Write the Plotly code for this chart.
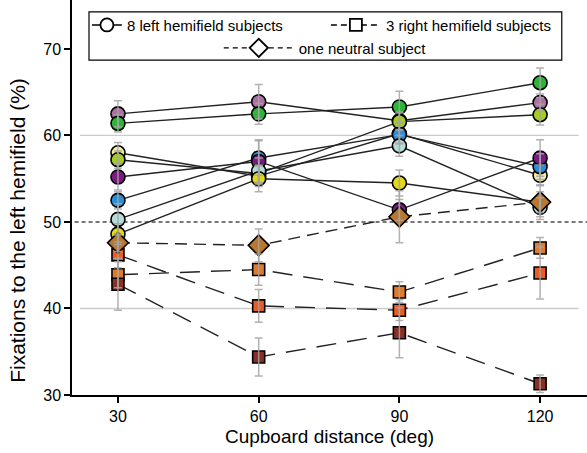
import plotly.graph_objects as go

distances = [30, 60, 90, 120]

# Left-hemifield subjects (circles, solid lines)
left_names = ["mauve", "green", "paleyellow", "yellowgreen", "blue", "purple", "lightcyan", "yellow"]
left_colors = ["#b06fa4", "#2db53a", "#f6efa2", "#a6cc1e", "#2b8fd8", "#7a1b82", "#b5dcd9", "#e2d81c"]
left_values = [
    [62.5, 63.9, 61.7, 63.8],
    [61.4, 62.5, 63.3, 66.1],
    [58.0, 55.3, 60.2, 55.4],
    [57.2, 55.6, 61.6, 62.4],
    [52.5, 57.4, 60.1, 56.4],
    [55.2, 57.0, 51.4, 57.4],
    [50.3, 55.9, 58.8, 51.7],
    [48.6, 55.0, 54.5, 52.3],
]
left_errors = [
    [1.5, 2.0, 1.0, 1.0],
    [1.0, 1.2, 1.8, 1.7],
    [1.2, 1.2, 1.2, 1.2],
    [1.0, 1.0, 1.0, 1.2],
    [1.0, 2.0, 1.0, 1.5],
    [1.5, 2.5, 1.2, 2.1],
    [1.8, 1.5, 1.2, 1.1],
    [1.2, 1.5, 1.5, 1.2],
]

# Right-hemifield subjects (squares, long-dashed lines)
right_colors = ["#e07a2c", "#eb5b24", "#8a2f24"]
right_values = [
    [43.9, 44.5, 41.9, 47.0],
    [46.2, 40.3, 39.8, 44.1],
    [42.8, 34.4, 37.2, 31.3],
]
right_errors = [
    [1.5, 1.8, 1.2, 1.2],
    [1.5, 1.9, 1.2, 3.0],
    [3.0, 2.2, 2.9, 1.0],
]

# Neutral subject (diamond, dashed line)
neutral_color = "#b8782e"
neutral_values = [47.6, 47.3, 50.6, 52.3]
neutral_errors = [1.0, 1.9, 3.0, 2.0]

y_ticks = [30, 40, 50, 60, 70]
x_ticks = [30, 60, 90, 120]
grid_levels = [40, 60]
chance_level = 50

FONT = "Liberation Sans, Arial, Helvetica, sans-serif"
LINE_COL = "#222222"
ERR_COL = "rgba(165,165,165,0.85)"

fig = go.Figure()

# lines first
for vals in left_values:
    fig.add_trace(go.Scatter(x=distances, y=vals, mode="lines",
                             line=dict(color=LINE_COL, width=1.4), showlegend=False, hoverinfo="skip"))
for vals in right_values:
    fig.add_trace(go.Scatter(x=distances, y=vals, mode="lines",
                             line=dict(color=LINE_COL, width=1.4, dash="20px,11px"), showlegend=False, hoverinfo="skip"))
fig.add_trace(go.Scatter(x=distances, y=neutral_values, mode="lines",
                         line=dict(color=LINE_COL, width=1.4, dash="12px,7px"), showlegend=False, hoverinfo="skip"))

# markers: circles, then squares, then diamond
for vals, col in zip(left_values, left_colors):
    fig.add_trace(go.Scatter(x=distances, y=vals, mode="markers",
                             marker=dict(symbol="circle", size=14, color=col, line=dict(color="black", width=1.6)),
                             showlegend=False))
for vals, col in zip(right_values, right_colors):
    fig.add_trace(go.Scatter(x=distances, y=vals, mode="markers",
                             marker=dict(symbol="square", size=12, color=col, line=dict(color="black", width=1.6)),
                             showlegend=False))
fig.add_trace(go.Scatter(x=distances, y=neutral_values, mode="markers",
                         marker=dict(symbol="diamond", size=16, color=neutral_color, line=dict(color="black", width=1.6)),
                         showlegend=False))

# error bars on top
all_vals = left_values + right_values + [neutral_values]
all_errs = left_errors + right_errors + [neutral_errors]
for vals, errs in zip(all_vals, all_errs):
    fig.add_trace(go.Scatter(x=distances, y=vals, mode="markers",
                             marker=dict(size=1, color="rgba(0,0,0,0)"),
                             error_y=dict(type="data", array=errs, color=ERR_COL, thickness=1.5, width=4),
                             showlegend=False, hoverinfo="skip"))

# legend entries
fig.add_trace(go.Scatter(x=[None], y=[None], mode="lines+markers", name="8 left hemifield subjects",
                         line=dict(color="black", width=1.4),
                         marker=dict(symbol="circle", size=13, color="white", line=dict(color="black", width=1.8)),
                         legend="legend"))
fig.add_trace(go.Scatter(x=[None], y=[None], mode="lines+markers", name="3 right hemifield subjects",
                         line=dict(color="black", width=1.4, dash="6px,4px"),
                         marker=dict(symbol="square", size=12, color="white", line=dict(color="black", width=1.8)),
                         legend="legend3"))
fig.add_trace(go.Scatter(x=[None], y=[None], mode="lines+markers", name="one neutral subject",
                         line=dict(color="black", width=1.4, dash="5px,4px"),
                         marker=dict(symbol="diamond", size=14, color="white", line=dict(color="black", width=1.8)),
                         legend="legend2"))

shapes = []
for g in grid_levels:
    shapes.append(dict(type="line", xref="x", yref="y", x0=21.9, x1=128.2, y0=g, y1=g,
                       line=dict(color="#cccccc", width=1.3), layer="below"))
shapes.append(dict(type="line", xref="paper", yref="y", x0=0.005, x1=1, y0=chance_level, y1=chance_level,
                   line=dict(color="#777777", width=2, dash="4px,3px"), layer="below"))
shapes.append(dict(type="rect", xref="paper", yref="paper", x0=0.033, x1=0.951, y0=0.848, y1=0.970,
                   line=dict(color="black", width=1.2), fillcolor="white", layer="above"))

leg_common = dict(orientation="h", yanchor="top", xanchor="left", bgcolor="rgba(0,0,0,0)",
                  borderwidth=0, font=dict(size=15, family=FONT))

fig.update_layout(
    width=587, height=453,
    margin=dict(l=72, r=0, t=0, b=58),
    paper_bgcolor="white", plot_bgcolor="white",
    font=dict(family=FONT, size=16, color="black"),
    showlegend=True,
    legend=dict(leg_common, x=0.029, y=0.978, itemwidth=30),
    legend3=dict(leg_common, x=0.493, y=0.978, itemwidth=50),
    legend2=dict(leg_common, x=0.285, y=0.920, itemwidth=70),
    shapes=shapes,
    annotations=[dict(text="Fixations to the left hemifield (%)", textangle=-90,
                      xref="paper", yref="paper", x=-0.105, y=0.418, xanchor="center", yanchor="middle",
                      showarrow=False, font=dict(size=21, family=FONT))],
    xaxis=dict(range=[20.2, 130], tickvals=x_ticks, ticks="outside", ticklen=6, tickwidth=1.5,
               tickcolor="black", showline=True, linecolor="black", linewidth=1.5, showgrid=False,
               zeroline=False, tickfont=dict(size=16),
               title=dict(text="Cupboard distance (deg)", font=dict(size=19), standoff=6)),
    yaxis=dict(range=[30, 75.66], tickvals=y_ticks, ticks="outside", ticklen=6, tickwidth=1.5,
               tickcolor="black", showline=True, linecolor="black", linewidth=1.5, showgrid=False,
               zeroline=False, tickfont=dict(size=16)),
)

fig.write_html("out.html")
